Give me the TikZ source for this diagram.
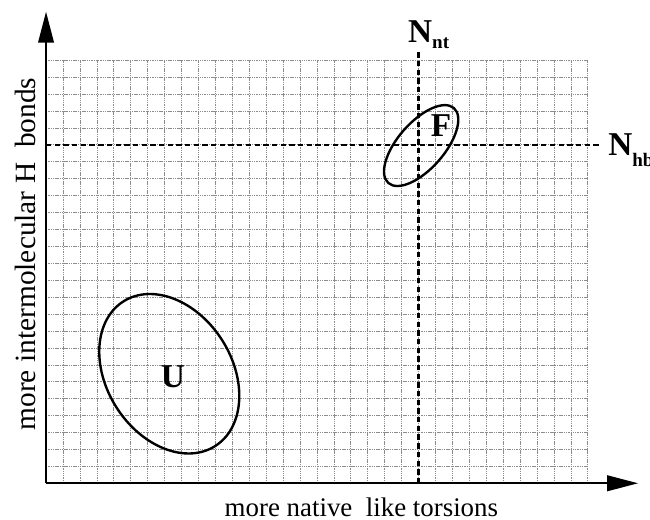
\documentclass[tikz,border=0pt]{standalone}
\usepackage{fontspec}
\setmainfont{Liberation Serif}
\usetikzlibrary{arrows.meta}
\definecolor{netzgrau}{HTML}{8C8C8C}
\tikzset{
  ax/.style={-{Triangle[length=26pt,width=13pt]},black,line width=1.9pt},
  netz/.style={netzgrau,line width=0.45pt,dash pattern=on 1.2pt off 0.7pt},
  hilf/.style={black,line width=1.8pt,dash pattern=on 4.5pt off 2.8pt},
  kurve/.style={black,line width=2pt},
  marke/.style={inner sep=0pt,anchor=base west,font=\fontsize{28}{30}\selectfont\bfseries},
  achse/.style={inner sep=0pt,anchor=base},
}
\newcommand{\tiefsub}[2]{\raisebox{-#1}{\fontsize{16}{16}\selectfont #2}}

\begin{document}
\begin{tikzpicture}[x=0.5cm,y=0.5cm]
  \useasboundingbox (-2.72,-2.17) rectangle (35.68,28.55);
  % --- Gitter ---
  \draw[netz,step=1] (0,0) grid (32,25);
  % --- Schwellen ---
  \coordinate (nt0) at (22,0);
  \coordinate (nt1) at (22,25.5);
  \coordinate (hb0) at (0,20);
  \coordinate (hb1) at (32.7,20);
  \draw[hilf] (nt0) -- (nt1);
  \draw[hilf] (hb0) -- (hb1);
  % --- Bereiche ---
  \draw[kurve,rotate around={-57.6:(7.28,6.47)}] (7.28,6.47) ellipse [x radius=5.06,y radius=3.70];
  \draw[kurve,rotate around={48.8:(22.16,19.95)}] (22.16,19.95) ellipse [x radius=2.94,y radius=1.37];
  \node[marke,anchor=base] (U) at (7.50,5.67) {U};
  \node[marke,anchor=base] (F) at (23.33,20.51) {F};
  % --- Achsen ---
  \coordinate (O) at (0,0);
  \coordinate (xend) at (34.98,0);
  \coordinate (yend) at (0,27.86);
  \draw[ax] (O) -- (xend);
  \draw[ax] (O) -- (yend);
  \node[marke] (Nnt) at (21.38,26.02) {N\tiefsub{5pt}{nt}};
  \node[marke] (Nhb) at (33.2,19.39) {N\tiefsub{9.5pt}{hb}};
  \node[achse,font=\fontsize{22.6}{24}\selectfont] (xlab) at (18.63,-1.97) {more native\ \ like torsions};
  \node[achse,rotate=90,font=\fontsize{24.7}{26}\selectfont] (ylab) at (-0.65,13.54) {more intermolecular H\ \ bonds};
\end{tikzpicture}
\end{document}
